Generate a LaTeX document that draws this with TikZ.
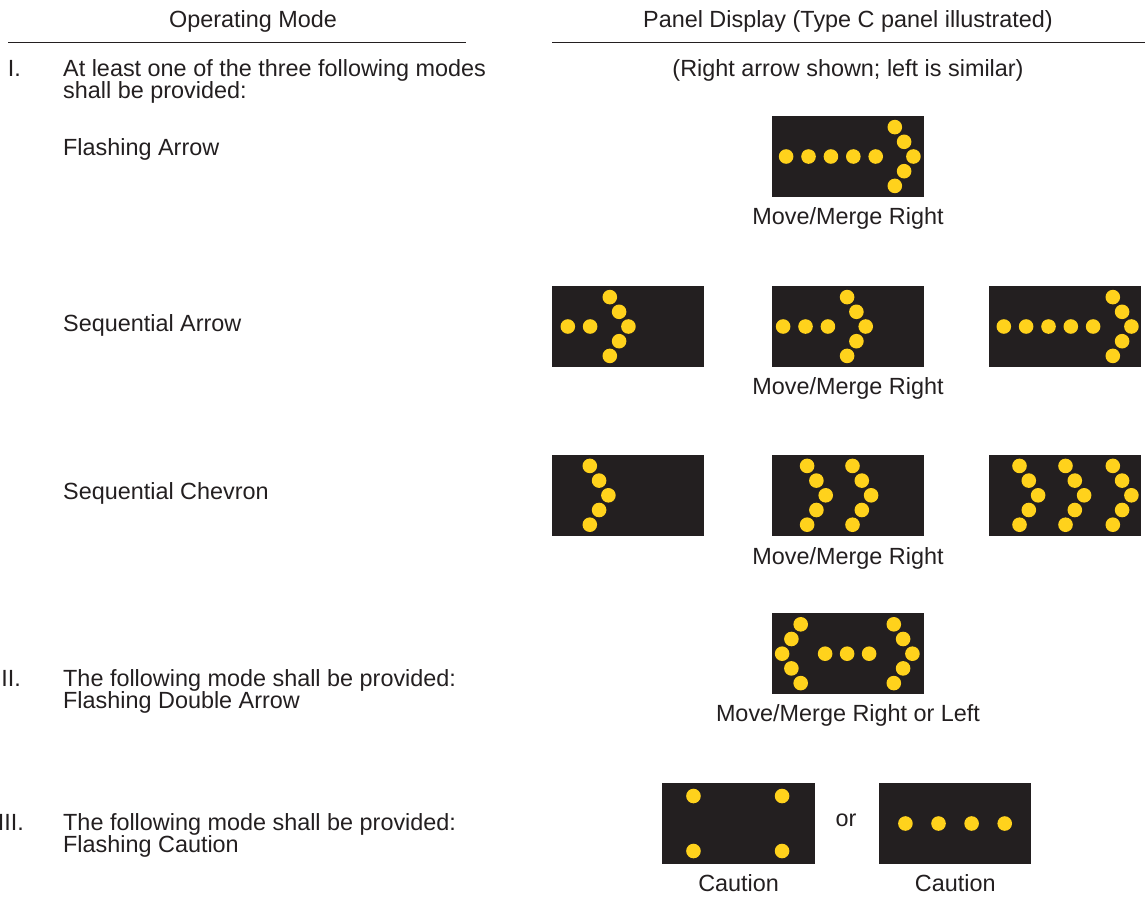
\documentclass[tikz,border=0pt]{standalone}
\usepackage{fontspec}
\setmainfont{Liberation Sans}
\definecolor{panelc}{RGB}{35,31,32}
\definecolor{dotc}{RGB}{255,210,28}
\definecolor{textc}{RGB}{35,31,32}
\begin{document}
\begin{tikzpicture}[x=1pt,y=-1pt,
  txt/.style={inner sep=0pt,text=textc,font=\fontsize{23.4}{28}\selectfont},
  panel/.style={fill=panelc,draw=none,minimum width=152pt,minimum height=81pt,inner sep=0pt},
  rule/.style={line width=0.9pt,draw=textc}]
\useasboundingbox (0,0) rectangle (1145,897);
\newcommand\dotat[3]{\fill[dotc] ([shift={(#2,#3)}]#1.west) circle[radius=7.3pt];}
\newcommand\chevR[2]{\foreach \dx/\dy in {0/-29.4,9.3/-14.7,18.6/0,9.3/14.7,0/29.4}{\dotat{#1}{#2+\dx}{\dy}}}
\newcommand\chevL[2]{\foreach \dx/\dy in {0/-29.4,-9.3/-14.7,-18.6/0,-9.3/14.7,0/29.4}{\dotat{#1}{#2+\dx}{\dy}}}
% headings
\node[txt,anchor=base] (h1) at (253,27) {Operating Mode};
\node[txt,anchor=base] (h2) at (848,27) {Panel Display (Type C panel illustrated)};
\coordinate (l1a) at (8,42.5); \coordinate (l1b) at (466,42.5);
\coordinate (l2a) at (552,42.5); \coordinate (l2b) at (1145,42.5);
\draw[rule] (l1a) -- (l1b);
\draw[rule] (l2a) -- (l2b);
% left column
\node[txt,anchor=base east] (n1) at (21,76) {I.};
\node[txt,anchor=base west] (t1) at (63,76) {At least one of the three following modes};
\node[txt,anchor=base west] (t1b) at (63,98) {shall be provided:};
\node[txt,anchor=base west] (fa) at (63,155) {Flashing Arrow};
\node[txt,anchor=base west] (sa) at (63,331) {Sequential Arrow};
\node[txt,anchor=base west] (sc) at (63,499) {Sequential Chevron};
\node[txt,anchor=base east] (n2) at (21,686) {II.};
\node[txt,anchor=base west] (t2) at (63,686) {The following mode shall be provided:};
\node[txt,anchor=base west] (t2b) at (63,708) {Flashing Double Arrow};
\node[txt,anchor=base east] (n3) at (24,830) {III.};
\node[txt,anchor=base west] (t3) at (63,830) {The following mode shall be provided:};
\node[txt,anchor=base west] (t3b) at (63,852) {Flashing Caution};
% right column
\node[txt,anchor=base] (rs) at (848,76) {(Right arrow shown; left is similar)};
% flashing arrow
\node[panel] (p1) at (848,156.5) {};
\foreach \x in {14.3,36.7,59.1,81.5,103.9}{\dotat{p1}{\x}{0}}
\chevR{p1}{123}
\node[txt,anchor=base] (c1) at (848,224) {Move/Merge Right};
% sequential arrow
\node[panel] (p2) at (628.3,326.5) {};
\foreach \x in {15.7,38}{\dotat{p2}{\x}{0}}
\chevR{p2}{57.7}
\node[panel] (p3) at (847.7,326.5) {};
\foreach \x in {11.6,34,56.4}{\dotat{p3}{\x}{0}}
\chevR{p3}{75.6}
\node[panel] (p4) at (1065,326.5) {};
\foreach \x in {15,37.3,59.7,82,104.3}{\dotat{p4}{\x}{0}}
\chevR{p4}{124}
\node[txt,anchor=base] (c2) at (848,394) {Move/Merge Right};
% sequential chevron
\node[panel] (p5) at (628.3,495.3) {};
\chevR{p5}{37.7}
\node[panel] (p6) at (847.7,495.3) {};
\chevR{p6}{35.6}\chevR{p6}{81}
\node[panel] (p7) at (1065,495.3) {};
\chevR{p7}{30.7}\chevR{p7}{76.7}\chevR{p7}{124}
\node[txt,anchor=base] (c3) at (848,564) {Move/Merge Right};
% double arrow
\node[panel] (p8) at (847.7,653.7) {};
\chevL{p8}{29.2}
\foreach \x in {53.6,75.6,97.6}{\dotat{p8}{\x}{0}}
\chevR{p8}{122.3}
\node[txt,anchor=base] (c4) at (848,721) {Move/Merge Right or Left};
% caution
\node[panel,minimum width=152.7pt] (p9) at (738.6,823.5) {};
\foreach \x in {31.4,120}{\dotat{p9}{\x}{-27.5}\dotat{p9}{\x}{27.5}}
\node[txt,anchor=mid] (or) at (846,824) {or};
\node[panel] (p10) at (955.3,823.5) {};
\foreach \x in {26.3,59.4,92.5,125.6}{\dotat{p10}{\x}{0}}
\node[txt,anchor=base] (c5) at (738.6,891) {Caution};
\node[txt,anchor=base] (c6) at (955.3,891) {Caution};
\end{tikzpicture}
\end{document}
